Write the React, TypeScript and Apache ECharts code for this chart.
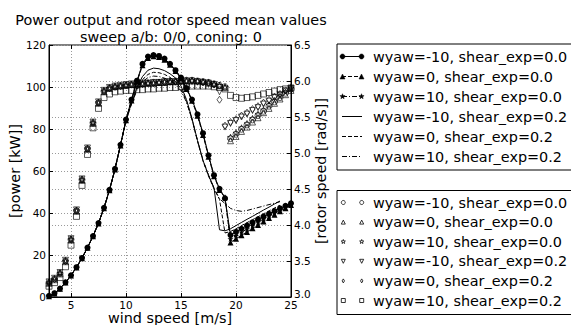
import React, { useEffect, useRef } from "react";
import * as echarts from "echarts";

// ---------- data ----------
const windSpeed = [3, 3.5, 4, 4.5, 5, 5.5, 6, 6.5, 7, 7.5, 8, 8.5, 9, 9.5, 10, 10.5, 11, 11.5, 12, 12.5, 13, 13.5, 14, 14.5, 15, 15.5, 16, 16.5, 17, 17.5, 18, 18.5, 19, 19.5, 20, 20.5, 21, 21.5, 22, 22.5, 23, 23.5, 24, 24.5, 25];

const legendLabels = [
  "wyaw=-10, shear_exp=0.0",
  "wyaw=0, shear_exp=0.0",
  "wyaw=10, shear_exp=0.0",
  "wyaw=-10, shear_exp=0.2",
  "wyaw=0, shear_exp=0.2",
  "wyaw=10, shear_exp=0.2",
];

// power [kW] (left axis)
const powerYawM10Shear0 = [0.5, 1.8, 4.0, 7.0, 10.3, 14.2, 18.6, 23.5, 29.0, 35.2, 42.5, 51.0, 61.0, 72.5, 84.5, 94.0, 103.0, 111.0, 114.5, 115.2, 114.8, 113.5, 111.0, 108.0, 104.5, 99.5, 94.0, 87.0, 78.0, 67.5, 58.0, 51.5, 47.0, 29.5, 31.0, 32.5, 34.0, 35.5, 37.0, 38.3, 39.6, 40.9, 42.2, 43.4, 44.6];
const powerYaw0Shear0 = [0.4, 1.7, 3.9, 6.9, 10.2, 14.1, 18.5, 23.4, 28.9, 35.0, 42.3, 50.8, 60.7, 72.2, 84.2, 93.6, 102.5, 110.3, 113.8, 114.6, 114.3, 113.0, 110.6, 107.6, 104.0, 99.0, 93.4, 86.3, 77.2, 66.8, 57.5, 51.0, 47.5, 26.0, 27.7, 29.4, 31.0, 32.7, 34.3, 36.0, 37.6, 39.2, 40.8, 42.3, 43.8];
const powerYaw10Shear0 = [0.5, 1.8, 4.0, 7.0, 10.3, 14.2, 18.6, 23.5, 29.0, 35.1, 42.4, 50.9, 60.8, 72.3, 84.3, 93.8, 102.8, 110.6, 114.2, 114.9, 114.6, 113.3, 110.8, 107.8, 104.3, 99.3, 93.7, 86.6, 77.6, 67.1, 57.8, 51.3, 47.2, 27.6, 29.2, 30.8, 32.4, 34.0, 35.6, 37.1, 38.6, 40.1, 41.5, 42.9, 44.2];
const powerYawM10Shear02 = [0.5, 1.8, 4.0, 7.0, 10.3, 14.2, 18.6, 23.5, 29.0, 35.2, 42.5, 51.0, 61.0, 72.5, 84.0, 92.5, 100.0, 105.0, 108.0, 109.0, 108.7, 107.8, 106.3, 104.3, 100.5, 94.0, 85.0, 74.5, 65.0, 58.0, 52.0, 32.0, 31.5, 32.5, 34.0, 35.5, 37.0, 38.4, 39.9, 41.4, 42.8, 44.3, 45.7, null, null];
const powerYaw0Shear02 = [0.5, 1.8, 4.0, 7.0, 10.3, 14.2, 18.6, 23.5, 29.0, 35.2, 42.5, 51.0, 61.0, 72.5, 84.0, 92.0, 99.0, 103.5, 106.0, 107.0, 106.8, 106.0, 104.6, 102.6, 99.2, 93.2, 84.5, 74.2, 64.8, 57.6, 51.5, 46.5, 30.5, 31.2, 32.5, 34.0, 35.4, 36.8, 38.2, 39.6, 41.0, 42.4, 43.7, null, null];
const powerYaw10Shear02 = [0.5, 1.8, 4.0, 7.0, 10.3, 14.2, 18.6, 23.5, 29.0, 35.2, 42.5, 51.0, 61.0, 72.5, 84.0, 92.0, 98.5, 102.5, 104.5, 105.2, 105.0, 104.2, 103.0, 101.2, 98.2, 92.8, 84.5, 74.5, 65.2, 58.0, 51.8, 46.8, 44.5, 42.2, 41.2, 40.8, 41.2, 41.9, 42.6, 43.3, 44.0, 44.7, 45.4, null, null];

// rotor speed [rad/s] (right axis)
const rotorYawM10Shear0 = [3.2, 3.25, 3.33, 3.5, 3.8, 4.2, 4.63, 5.06, 5.42, 5.7, 5.86, 5.9, 5.92, 5.93, 5.94, 5.95, 5.96, 5.96, 5.97, 5.98, 5.98, 5.99, 5.99, 6.0, 6.0, 6.01, 6.01, 6.0, 5.99, 5.98, 5.96, 5.94, 5.92, 5.2, 5.26, 5.33, 5.39, 5.46, 5.52, 5.58, 5.65, 5.71, 5.77, 5.83, 5.89];
const rotorYaw0Shear0 = [3.19, 3.24, 3.32, 3.49, 3.79, 4.19, 4.62, 5.05, 5.41, 5.69, 5.85, 5.9, 5.92, 5.93, 5.94, 5.95, 5.95, 5.96, 5.97, 5.97, 5.98, 5.98, 5.99, 5.99, 6.0, 6.0, 6.0, 6.0, 5.99, 5.97, 5.96, 5.94, 5.91, 5.17, 5.23, 5.3, 5.36, 5.43, 5.49, 5.56, 5.62, 5.69, 5.75, 5.81, 5.87];
const rotorYaw10Shear0 = [3.2, 3.25, 3.33, 3.5, 3.8, 4.2, 4.63, 5.06, 5.42, 5.7, 5.86, 5.9, 5.92, 5.93, 5.94, 5.95, 5.96, 5.96, 5.97, 5.97, 5.98, 5.99, 5.99, 6.0, 6.0, 6.0, 6.01, 6.0, 5.99, 5.98, 5.96, 5.94, 5.92, 5.22, 5.28, 5.35, 5.41, 5.48, 5.54, 5.6, 5.67, 5.73, 5.79, 5.85, 5.9];
const rotorYawM10Shear02 = [3.21, 3.26, 3.34, 3.51, 3.81, 4.21, 4.64, 5.07, 5.43, 5.71, 5.87, 5.91, 5.93, 5.94, 5.95, 5.96, 5.96, 5.97, 5.97, 5.98, 5.98, 5.99, 5.99, 5.99, 6.0, 6.0, 6.0, 5.99, 5.98, 5.97, 5.95, 5.85, 5.36, 5.41, 5.45, 5.5, 5.54, 5.59, 5.63, 5.68, 5.72, 5.77, 5.81, 5.86, 5.9];
const rotorYaw0Shear02 = [3.2, 3.25, 3.33, 3.5, 3.8, 4.2, 4.63, 5.06, 5.42, 5.7, 5.86, 5.9, 5.92, 5.93, 5.94, 5.95, 5.96, 5.96, 5.97, 5.97, 5.98, 5.98, 5.99, 5.99, 6.0, 6.0, 6.0, 5.99, 5.98, 5.97, 5.95, 5.74, 5.38, 5.43, 5.47, 5.52, 5.56, 5.61, 5.65, 5.7, 5.74, 5.78, 5.82, 5.87, 5.91];
const rotorYaw10Shear02 = [3.15, 3.2, 3.27, 3.42, 3.72, 4.12, 4.55, 4.98, 5.35, 5.62, 5.77, 5.82, 5.85, 5.86, 5.87, 5.87, 5.88, 5.88, 5.89, 5.89, 5.9, 5.9, 5.91, 5.91, 5.92, 5.92, 5.93, 5.93, 5.93, 5.93, 5.92, 5.91, 5.89, 5.8, 5.77, 5.76, 5.77, 5.78, 5.8, 5.82, 5.84, 5.86, 5.88, 5.89, 5.9];

// ---------- styling ----------
const FONT = "DejaVu Sans";
const STAR = "path://M50,0L61.2,34.5L97.6,34.5L68.2,55.9L79.4,90.5L50,69.1L20.6,90.5L31.8,55.9L2.4,34.5L38.8,34.5Z";
const DASH = [4, 2];
const DASHDOT = [5, 2, 1, 2];

function pairs(vals: (number | null)[]) {
  const out: number[][] = [];
  windSpeed.forEach((w, i) => {
    const v = vals[i];
    if (v !== null && v !== undefined) out.push([w, v]);
  });
  return out;
}

function lineSeries(name: string, vals: (number | null)[], symbol: string, lineType: any, size: number) {
  return {
    name,
    type: "line",
    yAxisIndex: 0,
    data: pairs(vals),
    symbol,
    symbolSize: size,
    showSymbol: symbol !== "none",
    itemStyle: { color: "#000", borderColor: "#000", borderWidth: 0 },
    lineStyle: { color: "#000", width: 1, type: lineType },
    z: 2,
  };
}

function scatterSeries(name: string, vals: (number | null)[], symbol: string, size: any, rotate = 0) {
  return {
    name,
    type: "scatter",
    yAxisIndex: 1,
    data: pairs(vals),
    symbol,
    symbolSize: size,
    symbolRotate: rotate,
    itemStyle: { color: "rgba(0,0,0,0)", borderColor: "#000", borderWidth: 0.8 },
    z: 3,
  };
}

function marker(kind: string, cx: number, cy: number, s: number, filled: boolean): any {
  const style = filled
    ? { fill: "#000", stroke: "#000", lineWidth: 0.5 }
    : { fill: "none", stroke: "#000", lineWidth: 0.8 };
  const h = s / 2;
  if (kind === "circle") return { type: "circle", shape: { cx, cy, r: h }, style };
  if (kind === "square") return { type: "rect", shape: { x: cx - h, y: cy - h, width: s, height: s }, style };
  if (kind === "triangle")
    return { type: "polygon", shape: { points: [[cx, cy - h], [cx + h, cy + h], [cx - h, cy + h]] }, style };
  if (kind === "triangleDown")
    return { type: "polygon", shape: { points: [[cx, cy + h], [cx + h, cy - h], [cx - h, cy - h]] }, style };
  if (kind === "diamond")
    return { type: "polygon", shape: { points: [[cx, cy - h], [cx + h * 0.6, cy], [cx, cy + h], [cx - h * 0.6, cy]] }, style };
  // star
  const pts: number[][] = [];
  for (let k = 0; k < 10; k++) {
    const r = k % 2 === 0 ? h * 1.1 : h * 0.45;
    const a = -Math.PI / 2 + (k * Math.PI) / 5;
    pts.push([cx + r * Math.cos(a), cy + r * Math.sin(a)]);
  }
  return { type: "polygon", shape: { points: pts }, style };
}

function text(str: string, x: number, y: number, size: number, align = "left", rotation = 0): any {
  return {
    type: "text",
    x,
    y,
    rotation,
    style: { text: str, x: 0, y: 0, fill: "#000", fontSize: size, fontFamily: FONT, align, verticalAlign: "middle" },
  };
}

export default function App() {
  const ref = useRef<HTMLDivElement>(null);
  useEffect(() => {
    document.body.style.margin = "0";
    if (!ref.current) return;
    const chart = echarts.init(ref.current, undefined, { renderer: "svg" });

    const gridLine = { show: true, lineStyle: { color: "#9a9a9a", width: 1, type: [1, 2] } };
    const lbl = { color: "#000", fontSize: 10.5, fontFamily: FONT };

    const graphics: any[] = [];
    // title + axis names
    graphics.push(text("Power output and rotor speed mean values", 171, 20, 14.4, "center"));
    graphics.push(text("sweep a/b: 0/0, coning: 0", 171, 37, 14.4, "center"));
    graphics.push(text("wind speed [m/s]", 170, 317.5, 14.4, "center"));
    graphics.push(text("[power [kW]]", 15, 171, 14.4, "center", Math.PI / 2));
    graphics.push(text("[rotor speed [rad/s]]", 321, 171, 14.4, "center", Math.PI / 2));

    // legend 1 (power)
    graphics.push({ type: "rect", shape: { x: 337, y: 44, width: 260, height: 126 }, style: { fill: "#fff", stroke: "#000", lineWidth: 1 } });
    const l1Sym = ["circle", "triangle", "star", "", "", ""];
    const l1Dash: any[] = [null, DASH, DASHDOT, null, DASH, DASHDOT];
    legendLabels.forEach((lab, k) => {
      const y = 56.5 + 20 * k;
      graphics.push({ type: "line", shape: { x1: 342, y1: y, x2: 362, y2: y }, style: { stroke: "#000", lineWidth: 1, lineDash: l1Dash[k] } });
      if (l1Sym[k]) {
        graphics.push(marker(l1Sym[k], 342.5, y, 5, true));
        graphics.push(marker(l1Sym[k], 361.5, y, 5, true));
      }
      graphics.push(text(lab, 373, y, 14.4));
    });

    // legend 2 (rotor speed)
    graphics.push({ type: "rect", shape: { x: 337, y: 190.5, width: 260, height: 124 }, style: { fill: "#fff", stroke: "#000", lineWidth: 1 } });
    const l2Sym = ["circle", "triangle", "star", "triangleDown", "diamond", "square"];
    legendLabels.forEach((lab, k) => {
      const y = 202.5 + 19.6 * k;
      graphics.push(marker(l2Sym[k], 343.3, y, 4, false));
      graphics.push(marker(l2Sym[k], 361.7, y, 4, false));
      graphics.push(text(lab, 373, y, 14.4));
    });

    const option: any = {
      animation: false,
      backgroundColor: "#fff",
      textStyle: { fontFamily: FONT },
      grid: { left: 49, right: 280, top: 45, bottom: 28, show: true, borderColor: "#000", borderWidth: 1, backgroundColor: "transparent" },
      xAxis: [
        {
          type: "value",
          min: 3,
          max: 25,
          position: "bottom",
          axisLine: { show: true, lineStyle: { color: "#000" } },
          axisTick: { show: true, inside: true, length: 4, lineStyle: { color: "#000" } },
          axisLabel: { ...lbl, margin: 2, showMinLabel: false, formatter: (v: number) => (v % 5 === 0 ? String(v) : "") },
          splitLine: gridLine,
        },
        {
          type: "value",
          min: 3,
          max: 25,
          position: "top",
          axisLine: { show: false },
          axisTick: { show: true, inside: true, length: 4, lineStyle: { color: "#000" } },
          axisLabel: { show: false },
          splitLine: { show: false },
        },
      ],
      yAxis: [
        {
          type: "value",
          min: 0,
          max: 120,
          interval: 20,
          position: "left",
          axisLine: { show: true, lineStyle: { color: "#000" } },
          axisTick: { show: true, inside: true, length: 4, lineStyle: { color: "#000" } },
          axisLabel: { ...lbl, margin: 3 },
          splitLine: gridLine,
        },
        {
          type: "value",
          min: 3,
          max: 6.5,
          interval: 0.5,
          position: "right",
          axisLine: { show: true, lineStyle: { color: "#000" } },
          axisTick: { show: true, inside: true, length: 4, lineStyle: { color: "#000" } },
          axisLabel: {
            ...lbl,
            margin: 3,
            formatter: (v: number) => (v === 3 ? "{low|3.0}" : v.toFixed(1)),
            rich: { low: { fontSize: 10.5, fontFamily: FONT, color: "#000", padding: [0, 0, 7, 0] } },
          },
          splitLine: gridLine,
        },
      ],
      series: [
        lineSeries(legendLabels[0], powerYawM10Shear0, "circle", "solid", 6),
        lineSeries(legendLabels[1], powerYaw0Shear0, "triangle", DASH, 6),
        lineSeries(legendLabels[2], powerYaw10Shear0, STAR, DASHDOT, 6),
        lineSeries(legendLabels[3], powerYawM10Shear02, "none", "solid", 0),
        lineSeries(legendLabels[4], powerYaw0Shear02, "none", DASH, 0),
        lineSeries(legendLabels[5], powerYaw10Shear02, "none", DASHDOT, 0),
        scatterSeries(legendLabels[0], rotorYawM10Shear0, "circle", 6),
        scatterSeries(legendLabels[1], rotorYaw0Shear0, "triangle", 6),
        scatterSeries(legendLabels[2], rotorYaw10Shear0, STAR, 6),
        scatterSeries(legendLabels[3], rotorYawM10Shear02, "triangle", 6, 180),
        scatterSeries(legendLabels[4], rotorYaw0Shear02, "diamond", [5, 7]),
        scatterSeries(legendLabels[5], rotorYaw10Shear02, "rect", 6),
      ],
      graphic: graphics,
    };
    chart.setOption(option);
    return () => chart.dispose();
  }, []);
  return <div ref={ref} style={{ width: 571, height: 325 }} />;
}
